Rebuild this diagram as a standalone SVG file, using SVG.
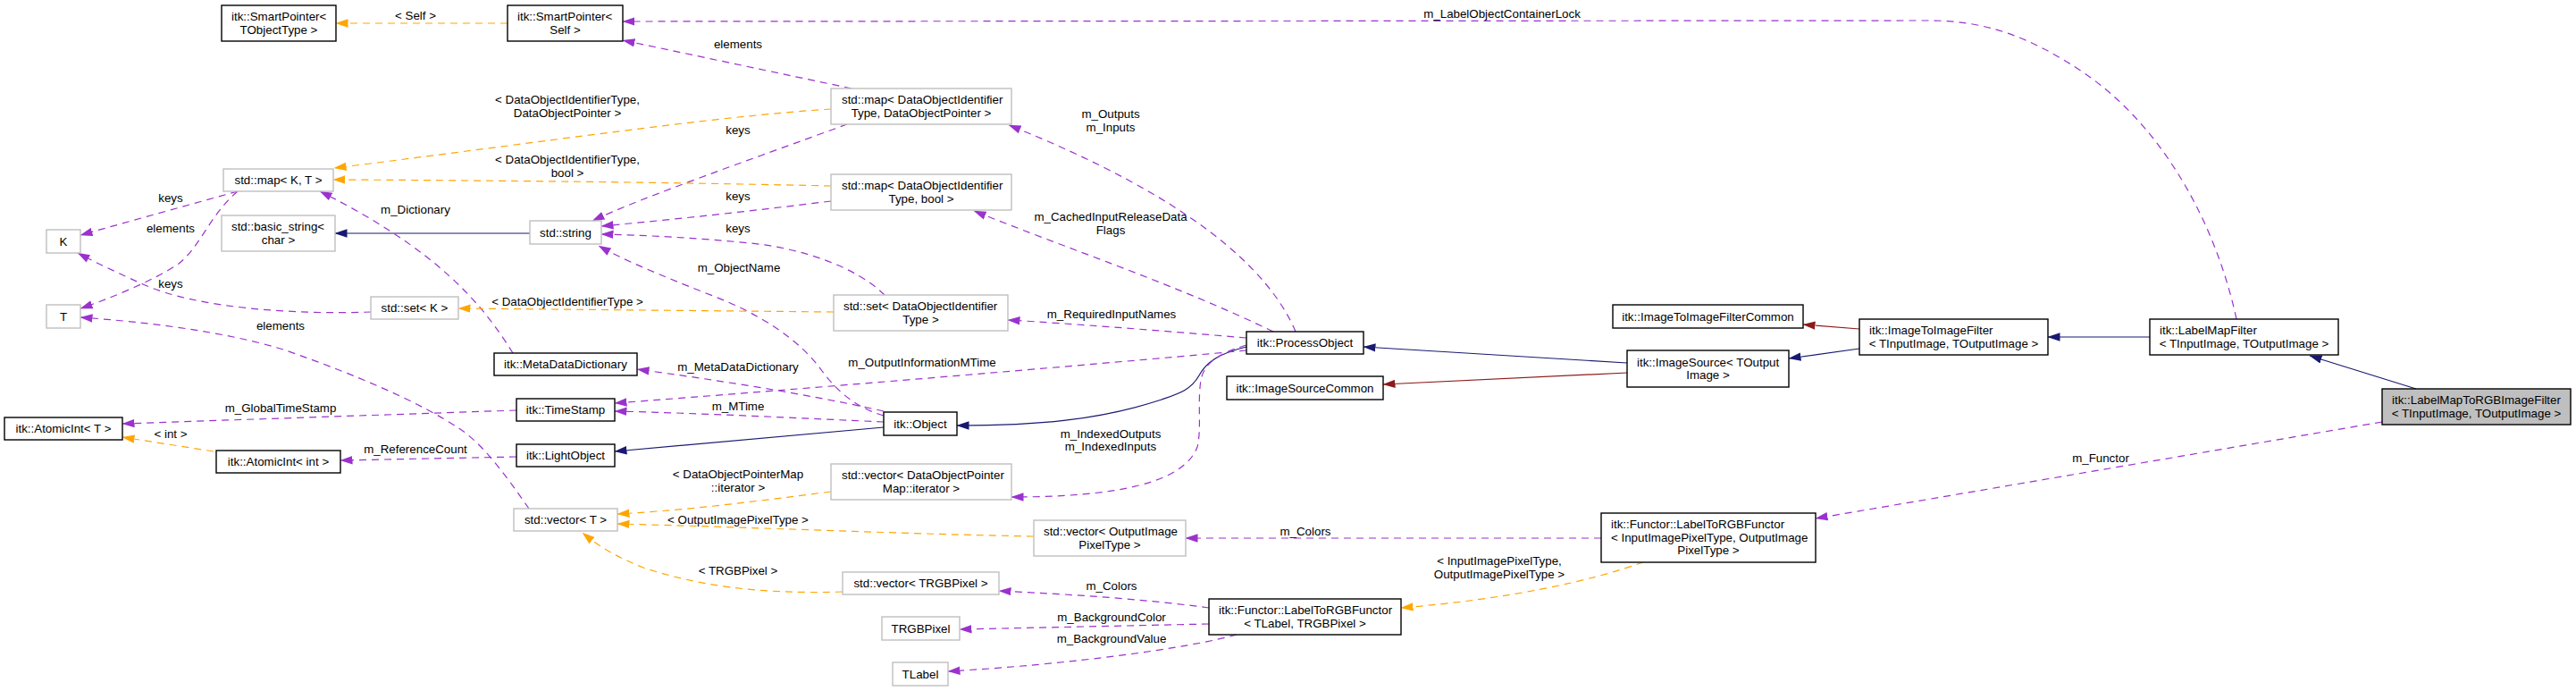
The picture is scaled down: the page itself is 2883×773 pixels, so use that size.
<svg xmlns="http://www.w3.org/2000/svg" width="2883" height="773" viewBox="0 0 2883 773">
<style>
text{font-family:"Liberation Sans",Arial,sans-serif;font-size:13.33px;fill:#000}
.c{text-anchor:middle}
.b{fill:#fff;stroke:#000;stroke-width:1.4}
.g{fill:#fff;stroke:#bfbfbf;stroke-width:1.4}
.m{fill:#bfbfbf;stroke:#000;stroke-width:1.4}
.e{fill:none;stroke-width:1.2}
.pu{stroke:#9a32cd;stroke-dasharray:8,6;marker-end:url(#ap)}
.or{stroke:#ffa500;stroke-dasharray:8,6;marker-end:url(#ao)}
.nv{stroke:#191970;marker-end:url(#an)}
.fb{stroke:#8b1a1a;marker-end:url(#af)}
</style>
<defs>
<marker id="ap" viewBox="0 0 14 10" refX="13.5" refY="5" markerWidth="14" markerHeight="10" orient="auto" markerUnits="userSpaceOnUse"><path d="M0,0.3 L14,5 L0,9.7 z" fill="#9a32cd"/></marker>
<marker id="ao" viewBox="0 0 14 10" refX="13.5" refY="5" markerWidth="14" markerHeight="10" orient="auto" markerUnits="userSpaceOnUse"><path d="M0,0.3 L14,5 L0,9.7 z" fill="#ffa500"/></marker>
<marker id="an" viewBox="0 0 14 10" refX="13.5" refY="5" markerWidth="14" markerHeight="10" orient="auto" markerUnits="userSpaceOnUse"><path d="M0,0.3 L14,5 L0,9.7 z" fill="#191970"/></marker>
<marker id="af" viewBox="0 0 14 10" refX="13.5" refY="5" markerWidth="14" markerHeight="10" orient="auto" markerUnits="userSpaceOnUse"><path d="M0,0.3 L14,5 L0,9.7 z" fill="#8b1a1a"/></marker>
</defs>
<rect width="2883" height="773" fill="#fff"/>

<g id="connectors">
<!-- inheritance -->
<path class="e nv" d="M2704,435 L2585,398"/>
<path class="e nv" d="M2406,377 L2292,377"/>
<path class="e nv" d="M2081,390 L2002,401"/>
<path class="e nv" d="M1821,406 L1526,388"/>
<path class="e nv" d="M1395,388 C1365,395 1350,405 1342,420 C1333,436 1320,440 1300,447 C1230,470 1160,476 1071,476"/>
<path class="e nv" d="M989,478 L688,505"/>
<path class="e nv" d="M593,261 L375,261"/>
<path class="e fb" d="M2081,368 L2018,363"/>
<path class="e fb" d="M1821,417 L1548,430"/>
<!-- members -->
<path class="e pu" d="M2503,357 C2480,250 2420,140 2330,80 C2270,40 2220,23 2160,23 L697,24"/>
<path class="e pu" d="M953,99 L697,45"/>
<path class="e pu" d="M948,139 C850,175 720,220 663,247"/>
<path class="e pu" d="M930,225 C850,235 760,245 673,253"/>
<path class="e pu" d="M990,330 C960,300 900,278 840,272 C780,266 720,263 673,262"/>
<path class="e pu" d="M989,465 C955,455 935,435 920,415 C895,380 850,350 790,328 C740,308 700,292 670,275"/>
<path class="e pu" d="M989,460 C900,440 800,425 713,413"/>
<path class="e pu" d="M989,472 C900,468 780,462 688,460"/>
<path class="e pu" d="M1395,392 C1200,410 900,435 688,451"/>
<path class="e pu" d="M1450,371 C1420,300 1330,220 1129,140"/>
<path class="e pu" d="M1425,371 C1320,320 1200,280 1090,236"/>
<path class="e pu" d="M1395,378 C1300,370 1200,362 1128,358"/>
<path class="e pu" d="M1395,386 C1365,395 1348,405 1344,425 C1340,450 1345,480 1340,500 C1325,540 1250,556 1132,556"/>
<path class="e pu" d="M574,395 C540,340 490,280 358,214"/>
<path class="e pu" d="M578,511 L381,515"/>
<path class="e pu" d="M578,459 L137,474"/>
<path class="e pu" d="M266,214 L90,263"/>
<path class="e pu" d="M266,214 C235,240 225,275 200,295 C170,315 120,335 90,345"/>
<path class="e pu" d="M415,349 C330,352 220,345 160,318 C120,300 100,290 87,283"/>
<path class="e pu" d="M592,569 C575,545 545,500 515,480 C470,450 400,420 320,392 C250,370 160,360 90,355"/>
<path class="e pu" d="M1353,680 C1280,670 1200,665 1118,661"/>
<path class="e pu" d="M1353,698 L1074,704"/>
<path class="e pu" d="M1384,710 C1330,725 1200,743 1061,751"/>
<path class="e pu" d="M1792,602 L1327,602"/>
<path class="e pu" d="M2666,472 L2032,580"/>
<!-- template instances -->
<path class="e or" d="M568,26 L376,26"/>
<path class="e or" d="M930,122 C800,130 600,160 374,188"/>
<path class="e or" d="M930,208 C800,205 600,202 373,201"/>
<path class="e or" d="M933,349 L513,345"/>
<path class="e or" d="M239,505 L137,489"/>
<path class="e or" d="M930,550 C850,560 780,570 691,575"/>
<path class="e or" d="M1157,600 C1000,597 850,590 691,586"/>
<path class="e or" d="M943,662 C850,665 780,655 720,635 C695,625 675,615 652,596"/>
<path class="e or" d="M1839,629 C1780,650 1690,670 1568,680"/>
<!-- labels -->
<text class="c" x="465" y="21.5">&lt; Self &gt;</text>
<text class="c" x="1681" y="19.5">m_LabelObjectContainerLock</text>
<text class="c" x="826" y="53.5">elements</text>
<text class="c" x="635" y="115.5">&lt; DataObjectIdentifierType,</text>
<text class="c" x="635" y="130.5">DataObjectPointer &gt;</text>
<text class="c" x="826" y="149.5">keys</text>
<text class="c" x="1243" y="131.5">m_Outputs</text>
<text class="c" x="1243" y="146.5">m_Inputs</text>
<text class="c" x="635" y="182.5">&lt; DataObjectIdentifierType,</text>
<text class="c" x="635" y="197.5">bool &gt;</text>
<text class="c" x="826" y="223.5">keys</text>
<text class="c" x="191" y="225.5">keys</text>
<text class="c" x="465" y="238.5">m_Dictionary</text>
<text class="c" x="1243" y="246.5">m_CachedInputReleaseData</text>
<text class="c" x="1243" y="261.5">Flags</text>
<text class="c" x="191" y="259.5">elements</text>
<text class="c" x="826" y="259.5">keys</text>
<text class="c" x="827" y="303.5">m_ObjectName</text>
<text class="c" x="191" y="321.5">keys</text>
<text class="c" x="635" y="341.5">&lt; DataObjectIdentifierType &gt;</text>
<text class="c" x="1244" y="355.5">m_RequiredInputNames</text>
<text class="c" x="314" y="368.5">elements</text>
<text class="c" x="1032" y="409.5">m_OutputInformationMTime</text>
<text class="c" x="826" y="414.5">m_MetaDataDictionary</text>
<text class="c" x="826" y="458.5">m_MTime</text>
<text class="c" x="314" y="460.5">m_GlobalTimeStamp</text>
<text class="c" x="191" y="489.5">&lt; int &gt;</text>
<text class="c" x="1243" y="489.5">m_IndexedOutputs</text>
<text class="c" x="1243" y="503.5">m_IndexedInputs</text>
<text class="c" x="465" y="506.5">m_ReferenceCount</text>
<text class="c" x="2351" y="516.5">m_Functor</text>
<text class="c" x="826" y="534.5">&lt; DataObjectPointerMap</text>
<text class="c" x="826" y="549.5">::iterator &gt;</text>
<text class="c" x="826" y="585.5">&lt; OutputImagePixelType &gt;</text>
<text class="c" x="1461" y="598.5">m_Colors</text>
<text class="c" x="1678" y="631.5">&lt; InputImagePixelType,</text>
<text class="c" x="1678" y="646.5">OutputImagePixelType &gt;</text>
<text class="c" x="826" y="642.5">&lt; TRGBPixel &gt;</text>
<text class="c" x="1244" y="659.5">m_Colors</text>
<text class="c" x="1244" y="694.5">m_BackgroundColor</text>
<text class="c" x="1244" y="718.5">m_BackgroundValue</text>
</g>

<g id="n_smartptr_tobj"><rect class="b" x="248" y="6" width="128" height="40"/><text x="259" y="23">itk::SmartPointer&lt;</text><text class="c" x="312" y="37.5">TObjectType &gt;</text></g>
<g id="n_smartptr_self"><rect class="b" x="568" y="6" width="129" height="40"/><text x="579" y="23">itk::SmartPointer&lt;</text><text class="c" x="632.5" y="37.5">Self &gt;</text></g>
<g id="n_map_kt"><rect class="g" x="250" y="189" width="123" height="25"/><text class="c" x="311.5" y="206">std::map&lt; K, T &gt;</text></g>
<g id="n_k"><rect class="g" x="52" y="257" width="38" height="26"/><text class="c" x="71" y="274.5">K</text></g>
<g id="n_t"><rect class="g" x="52" y="341" width="38" height="26"/><text class="c" x="71" y="358.5">T</text></g>
<g id="n_basic_string"><rect class="g" x="248" y="241" width="127" height="40"/><text x="259" y="258">std::basic_string&lt;</text><text class="c" x="311.5" y="272.5">char &gt;</text></g>
<g id="n_string"><rect class="g" x="593" y="247" width="80" height="26"/><text class="c" x="633" y="264.5">std::string</text></g>
<g id="n_set_k"><rect class="g" x="415" y="332" width="98" height="25"/><text class="c" x="464" y="349">std::set&lt; K &gt;</text></g>
<g id="n_metadatadict"><rect class="b" x="553" y="395" width="160" height="25"/><text class="c" x="633" y="412">itk::MetaDataDictionary</text></g>
<g id="n_timestamp"><rect class="b" x="578" y="446" width="110" height="25"/><text class="c" x="633" y="463">itk::TimeStamp</text></g>
<g id="n_lightobject"><rect class="b" x="578" y="497" width="110" height="25"/><text class="c" x="633" y="514">itk::LightObject</text></g>
<g id="n_atomicint_t"><rect class="b" x="5" y="467" width="132" height="25"/><text class="c" x="71" y="484">itk::AtomicInt&lt; T &gt;</text></g>
<g id="n_atomicint_int"><rect class="b" x="242" y="504" width="139" height="25"/><text class="c" x="311.5" y="521">itk::AtomicInt&lt; int &gt;</text></g>
<g id="n_vector_t"><rect class="g" x="575" y="569" width="116" height="25"/><text class="c" x="633" y="586">std::vector&lt; T &gt;</text></g>
<g id="n_map_dop"><rect class="g" x="930" y="99" width="202" height="40"/><text x="942" y="116">std::map&lt; DataObjectIdentifier</text><text class="c" x="1031" y="130.5">Type, DataObjectPointer &gt;</text></g>
<g id="n_map_bool"><rect class="g" x="930" y="195" width="202" height="40"/><text x="942" y="212">std::map&lt; DataObjectIdentifier</text><text class="c" x="1031" y="226.5">Type, bool &gt;</text></g>
<g id="n_set_doi"><rect class="g" x="933" y="330" width="195" height="40"/><text x="944" y="347">std::set&lt; DataObjectIdentifier</text><text class="c" x="1030.5" y="361.5">Type &gt;</text></g>
<g id="n_processobject"><rect class="b" x="1395" y="371" width="131" height="25"/><text class="c" x="1460.5" y="388">itk::ProcessObject</text></g>
<g id="n_object"><rect class="b" x="989" y="461" width="82" height="26"/><text class="c" x="1030" y="478.5">itk::Object</text></g>
<g id="n_vector_dopm"><rect class="g" x="930" y="519" width="202" height="40"/><text x="942" y="536">std::vector&lt; DataObjectPointer</text><text class="c" x="1031" y="550.5">Map::iterator &gt;</text></g>
<g id="n_vector_oipt"><rect class="g" x="1157" y="582" width="170" height="40"/><text x="1168" y="599">std::vector&lt; OutputImage</text><text class="c" x="1242" y="613.5">PixelType &gt;</text></g>
<g id="n_vector_rgb"><rect class="g" x="943" y="640" width="175" height="25"/><text class="c" x="1030.5" y="657">std::vector&lt; TRGBPixel &gt;</text></g>
<g id="n_trgbpixel"><rect class="g" x="987" y="690" width="87" height="26"/><text class="c" x="1030.5" y="707.5">TRGBPixel</text></g>
<g id="n_tlabel"><rect class="g" x="999" y="741" width="62" height="26"/><text class="c" x="1030" y="758.5">TLabel</text></g>
<g id="n_functor_tl"><rect class="b" x="1353" y="670" width="215" height="40"/><text x="1364" y="687">itk::Functor::LabelToRGBFunctor</text><text class="c" x="1460.5" y="701.5">&lt; TLabel, TRGBPixel &gt;</text></g>
<g id="n_imagesourcecommon"><rect class="b" x="1373" y="421" width="175" height="26"/><text class="c" x="1460.5" y="438.5">itk::ImageSourceCommon</text></g>
<g id="n_imagesource"><rect class="b" x="1821" y="392" width="181" height="41"/><text x="1832" y="409.5">itk::ImageSource&lt; TOutput</text><text class="c" x="1911.5" y="424">Image &gt;</text></g>
<g id="n_functor_io"><rect class="b" x="1792" y="574" width="240" height="55"/><text x="1803" y="591">itk::Functor::LabelToRGBFunctor</text><text x="1803" y="605.5">&lt; InputImagePixelType, OutputImage</text><text class="c" x="1912" y="620">PixelType &gt;</text></g>
<g id="n_itifcommon"><rect class="b" x="1805" y="341" width="213" height="26"/><text class="c" x="1911.5" y="358.5">itk::ImageToImageFilterCommon</text></g>
<g id="n_itif"><rect class="b" x="2081" y="357" width="211" height="40"/><text x="2092" y="374">itk::ImageToImageFilter</text><text class="c" x="2186.5" y="388.5">&lt; TInputImage, TOutputImage &gt;</text></g>
<g id="n_labelmapfilter"><rect class="b" x="2406" y="357" width="211" height="40"/><text x="2417" y="374">itk::LabelMapFilter</text><text class="c" x="2511.5" y="388.5">&lt; TInputImage, TOutputImage &gt;</text></g>
<g id="n_labelmaptorgb"><rect class="m" x="2666" y="435" width="211" height="40"/><text x="2677" y="452">itk::LabelMapToRGBImageFilter</text><text class="c" x="2771.5" y="466.5">&lt; TInputImage, TOutputImage &gt;</text></g>
</svg>
